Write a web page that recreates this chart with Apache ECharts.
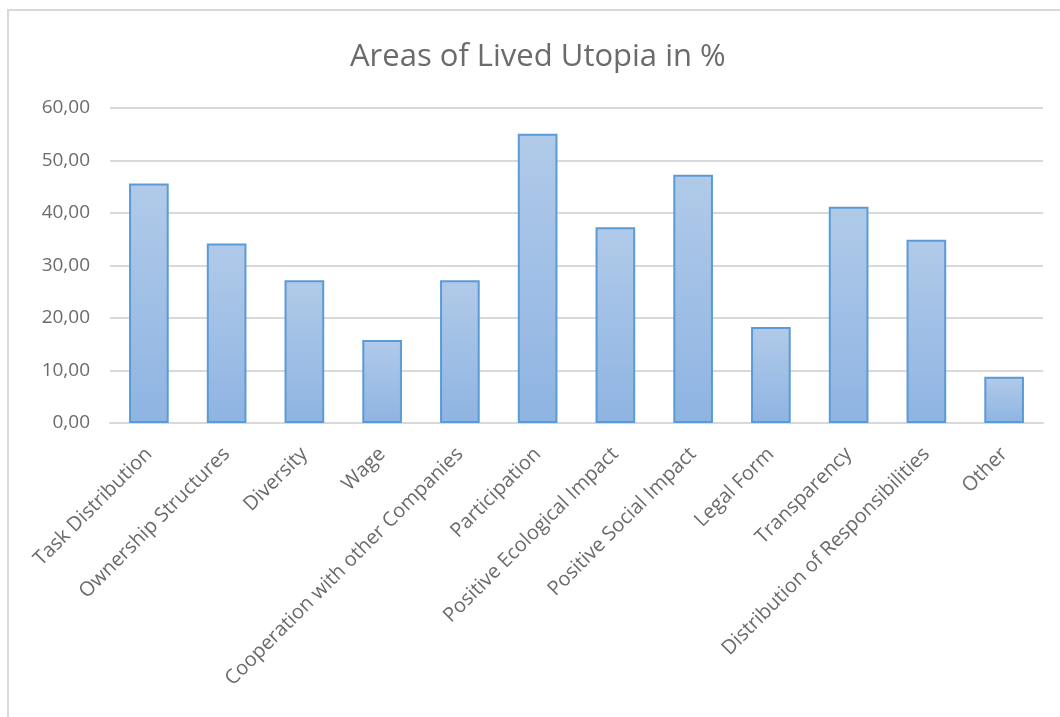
<!DOCTYPE html>
<html>
<head>
<meta charset="utf-8">
<script src="https://cdn.jsdelivr.net/npm/echarts@6/dist/echarts.min.js"></script>
<style>
  html, body { margin: 0; padding: 0; background: #fff; overflow: hidden; }
  .frame { position: absolute; left: 7px; top: 9px; width: 1100px; height: 800px;
           border-left: 2px solid #d9d9d9; border-top: 2px solid #d9d9d9; }
  #chart { position: absolute; left: 0; top: 0; width: 1060px; height: 717px; }
</style>
</head>
<body>
<div class="frame"></div>
<div id="chart"></div>
<script>
// categories and values (percent)
var categories = [
  'Task Distribution', 'Ownership Structures', 'Diversity', 'Wage',
  'Cooperation with other Companies', 'Participation', 'Positive Ecological Impact',
  'Positive Social Impact', 'Legal Form', 'Transparency',
  'Distribution of Responsibilities', 'Other'
];
var shares = [45.6, 34.2, 27.2, 15.8, 27.2, 55.1, 37.3, 47.3, 18.3, 41.2, 34.9, 8.8];
var yTicks = { min: 0, max: 60, step: 10 };

var chart = echarts.init(document.getElementById('chart'));

var option = {
  animation: false,
  title: {
    text: 'Areas of Lived Utopia in %',
    left: 345,
    top: 37,
    textStyle: { fontFamily: 'Open Sans', fontSize: 31, fontWeight: 'normal', color: '#6b6b6b' }
  },
  grid: { left: 110, right: 17, top: 108, bottom: 294, outerBoundsMode: 'none' },
  xAxis: {
    type: 'category',
    data: categories,
    axisTick: { show: false },
    axisLine: { lineStyle: { color: '#d9d9d9', width: 2 } },
    axisLabel: {
      interval: 0,
      rotate: 45,
      margin: 28,
      color: '#6b6b6b',
      fontFamily: 'Open Sans',
      fontSize: 20
    }
  },
  yAxis: {
    type: 'value',
    min: yTicks.min,
    max: yTicks.max,
    interval: yTicks.step,
    axisLine: { show: false },
    axisTick: { show: false },
    splitLine: { lineStyle: { color: '#d9d9d9', width: 2 } },
    axisLabel: {
      margin: 20,
      color: '#6b6b6b',
      fontFamily: 'Open Sans',
      fontSize: 19,
      formatter: function (v) { return v.toFixed(2).replace('.', ','); }
    }
  },
  series: [{
    type: 'bar',
    data: shares,
    barWidth: '51%',
    itemStyle: {
      borderColor: '#5b9bd5',
      borderWidth: 2,
      color: {
        type: 'linear', x: 0, y: 0, x2: 0, y2: 1,
        colorStops: [
          { offset: 0, color: '#b1cae9' },
          { offset: 1, color: '#8eb4e2' }
        ]
      }
    }
  }]
};

chart.setOption(option);
</script>
</body>
</html>
